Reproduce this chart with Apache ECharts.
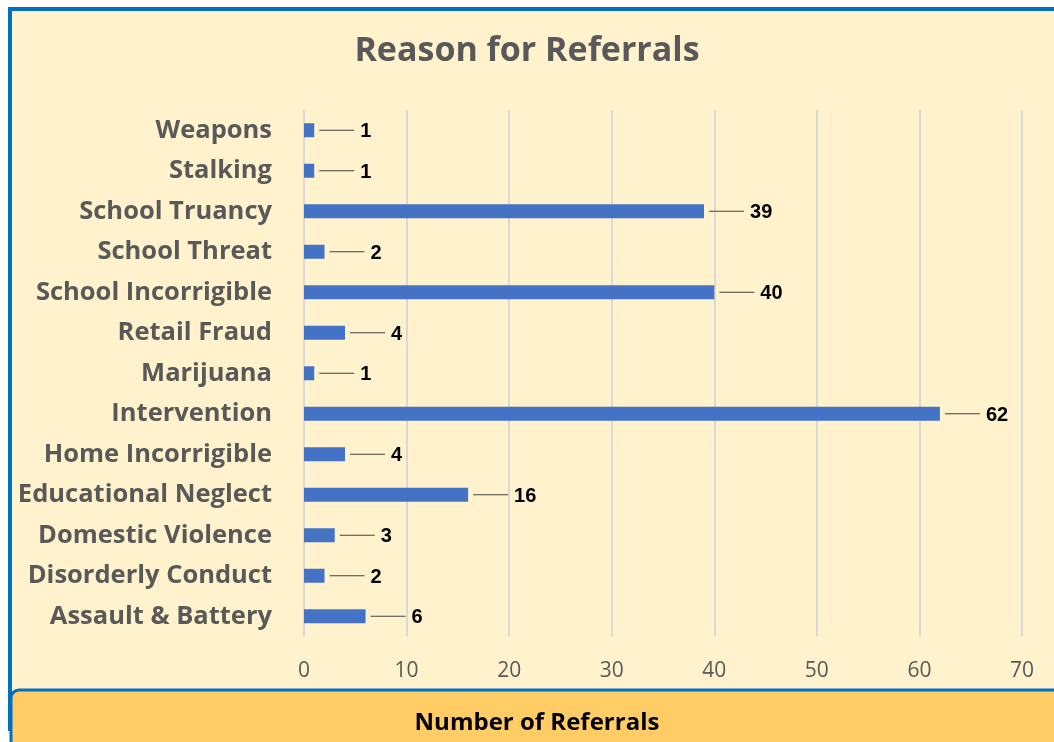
<!DOCTYPE html>
<html>
<head>
<meta charset="utf-8">
<script src="https://cdn.jsdelivr.net/npm/echarts@6/dist/echarts.min.js"></script>
<style>html,body{margin:0;padding:0;background:#fff;}#c{width:1054px;height:742px;}</style>
</head>
<body>
<div id="c"></div>
<script>
const categories = ["Weapons","Stalking","School Truancy","School Threat","School Incorrigible","Retail Fraud","Marijuana","Intervention","Home Incorrigible","Educational Neglect","Domestic Violence","Disorderly Conduct","Assault & Battery"];
const referrals = [1,1,39,2,40,4,1,62,4,16,3,2,6];
const xTicks = [0,10,20,30,40,50,60,70];
const titleText = "Reason for Referrals";
const xAxisTitle = "Number of Referrals";

const chart = echarts.init(document.getElementById('c'));
chart.setOption({
  backgroundColor: '#ffffff',
  animation: false,
  graphic: [
    {type:'rect', z:-10, shape:{x:10,y:9,width:1080,height:720}, style:{fill:'#FFF2CC', stroke:'#0070C0', lineWidth:4}},
    {type:'rect', z:-5, shape:{x:11,y:690,width:1080,height:80,r:8}, style:{fill:'#FFCC66', stroke:'#0070C0', lineWidth:3}},
    {type:'text', z:5, x:537, y:723, style:{text:xAxisTitle, fill:'#000', font:'bold 24px "Open Sans"', align:'center', verticalAlign:'middle'}}
  ],
  title: {
    text: titleText, left: 'center', top: 29,
    textStyle: {fontFamily:'Open Sans', fontWeight:'bold', fontSize:34, color:'#595959'}
  },
  grid: {left:304, right:32, top:110, bottom:105.5, containLabel:false},
  xAxis: {
    type:'value', min:0, max:70, interval:10,
    axisLine:{show:false}, axisTick:{show:false},
    axisLabel:{color:'#595959', fontSize:21, fontFamily:'Open Sans', margin:24, formatter: v => xTicks.includes(v) ? String(v) : ''},
    splitLine:{show:true, lineStyle:{color:'#D9D9D9', width:2}}
  },
  yAxis: {
    type:'category', data:categories, inverse:true,
    axisLine:{show:false}, axisTick:{show:false},
    axisLabel:{color:'#595959', fontSize:25.5, fontWeight:'bold', fontFamily:'Open Sans', margin:32}
  },
  series: [{
    type:'bar', data:referrals, barWidth:14,
    itemStyle:{color:'#4472C4'},
    label:{
      show:true, position:'right', distance:5,
      formatter: p => '{ln|}{v|' + p.value + '}',
      rich:{
        ln:{width:35, height:1, backgroundColor:'#404040'},
        v:{fontSize:20, fontWeight:'bold', color:'#000', fontFamily:'Liberation Sans', padding:[3,0,0,6]}
      }
    }
  }]
});
</script>
</body>
</html>
